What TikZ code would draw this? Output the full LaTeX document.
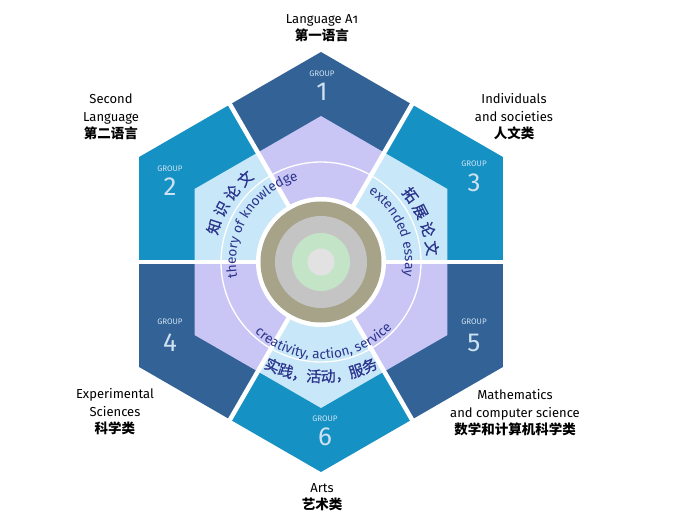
\documentclass[tikz,border=0pt]{standalone}
\usepackage{fontspec}
\setmainfont{Fira Sans}
\newfontfamily\cjk{Noto Sans CJK SC}
\newfontfamily\cjkarc{Noto Sans CJK SC}[FakeBold=0.9]
\usetikzlibrary{decorations.text}

\definecolor{deepblue}{RGB}{50,98,150}
\definecolor{skyblue}{RGB}{22,145,196}
\definecolor{lavender}{RGB}{201,198,246}
\definecolor{paleblue}{RGB}{200,231,249}
\definecolor{inkblue}{RGB}{43,52,140}
\definecolor{grouptext}{RGB}{205,225,242}
\definecolor{olivering}{RGB}{166,163,137}
\definecolor{grayring}{RGB}{196,196,196}
\definecolor{mintring}{RGB}{196,228,200}
\definecolor{pearl}{RGB}{226,226,226}

\newcommand\arcfont{\fontsize{13.6}{15}\selectfont\color{inkblue}}
\newcommand\arccjk{\cjkarc\fontsize{15}{16}\selectfont\color{inkblue}}
\newcommand\labelcjk{\cjk\bfseries\fontsize{13.5}{17.5}\selectfont}

\tikzset{
  divider/.style={draw=white, line width=4.5pt},
  curved/.style={decorate, decoration={text along path, text align=center, text={#1}}},
  grouptag/.style={text=grouptext, font=\fontsize{8}{9}\selectfont},
  groupnum/.style={text=grouptext, font=\fontsize{26}{28}\selectfont}
}

\begin{document}
\begin{tikzpicture}[x=1pt,y=1pt]
  \useasboundingbox (-321,-260) rectangle (359,262);
  \coordinate (c) at (0,0);

  \fill[deepblue] (c) -- (60:181.9) -- (90:210) -- (120:181.9) -- cycle;
  \fill[skyblue]  (c) -- (120:181.9) -- (150:210) -- (180:181.9) -- cycle;
  \fill[skyblue]  (c) -- (0:181.9) -- (30:210) -- (60:181.9) -- cycle;
  \fill[deepblue] (c) -- (180:181.9) -- (210:210) -- (240:181.9) -- cycle;
  \fill[deepblue] (c) -- (300:181.9) -- (330:210) -- (360:181.9) -- cycle;
  \fill[skyblue]  (c) -- (240:181.9) -- (270:210) -- (300:181.9) -- cycle;

  \fill[lavender] (c) -- (60:126.4) -- (90:146) -- (120:126.4) -- cycle;
  \fill[paleblue] (c) -- (120:126.4) -- (150:146) -- (180:126.4) -- cycle;
  \fill[paleblue] (c) -- (0:126.4) -- (30:146) -- (60:126.4) -- cycle;
  \fill[lavender] (c) -- (180:126.4) -- (210:146) -- (240:126.4) -- cycle;
  \fill[lavender] (c) -- (300:126.4) -- (330:146) -- (360:126.4) -- cycle;
  \fill[paleblue] (c) -- (240:126.4) -- (270:146) -- (300:126.4) -- cycle;

  \draw[divider] (c) -- (0:190);
  \draw[divider] (c) -- (60:190);
  \draw[divider] (c) -- (120:190);
  \draw[divider] (c) -- (180:190);
  \draw[divider] (c) -- (240:190);
  \draw[divider] (c) -- (300:190);

  \draw[white, line width=1.3pt] (c) circle[radius=100];

  \fill[white]     (c) circle[radius=65];
  \fill[olivering] (c) circle[radius=60.5];
  \fill[grayring]  (c) circle[radius=46];
  \fill[mintring]  (c) circle[radius=29];
  \fill[pearl]     (c) circle[radius=13.5];

  \path[curved={|\arcfont|theory of knowledge}] (208:85) arc[start angle=208, end angle=88, radius=85];
  \path[curved={|\arcfont|extended essay}] (83:84) arc[start angle=83, end angle=-37, radius=84];
  \path[curved={|\arcfont|creativity, action, service}] (212:97) arc[start angle=212, end angle=332, radius=97];
  \path[curved={|\arccjk|知 识 论 文}] (187:107) arc[start angle=187, end angle=107, radius=107];
  \path[curved={|\arccjk|拓 展 论 文}] (62:106) arc[start angle=62, end angle=-18, radius=106];
  \path[curved={|\arccjk|实践，活动，服务}] (225:120) arc[start angle=225, end angle=315, radius=120];

  \node[grouptag] (tag1) at (1,188) {GROUP};
  \node[groupnum] (num1) at (1,170) {1};
  \node[grouptag] (tag2) at (-151,93) {GROUP};
  \node[groupnum] (num2) at (-151,75) {2};
  \node[grouptag] (tag3) at (153,98) {GROUP};
  \node[groupnum] (num3) at (153,79) {3};
  \node[grouptag] (tag4) at (-151,-60) {GROUP};
  \node[groupnum] (num4) at (-151,-81) {4};
  \node[grouptag] (tag5) at (153,-60) {GROUP};
  \node[groupnum] (num5) at (153,-81) {5};
  \node[grouptag] (tag6) at (4,-157) {GROUP};
  \node[groupnum] (num6) at (4,-175) {6};

  \begin{scope}[every node/.style={align=center, font=\fontsize{13}{17.5}\selectfont}]
    \node (language) at (1,234) {Language A{\addfontfeature{Numbers=OldStyle}1}\\{\labelcjk 第一语言}};
    \node (second)   at (-210,145) {Second\\Language\\{\labelcjk 第二语言}};
    \node (society)  at (193,145) {Individuals\\and societies\\{\labelcjk 人文类}};
    \node (science)  at (-206,-150) {Experimental\\Sciences\\{\labelcjk 科学类}};
    \node (maths)    at (194,-151) {Mathematics\\and computer science\\{\labelcjk 数学和计算机科学类}};
    \node (arts)     at (1,-235) {Arts\\{\labelcjk 艺术类}};
  \end{scope}

\end{tikzpicture}
\end{document}
